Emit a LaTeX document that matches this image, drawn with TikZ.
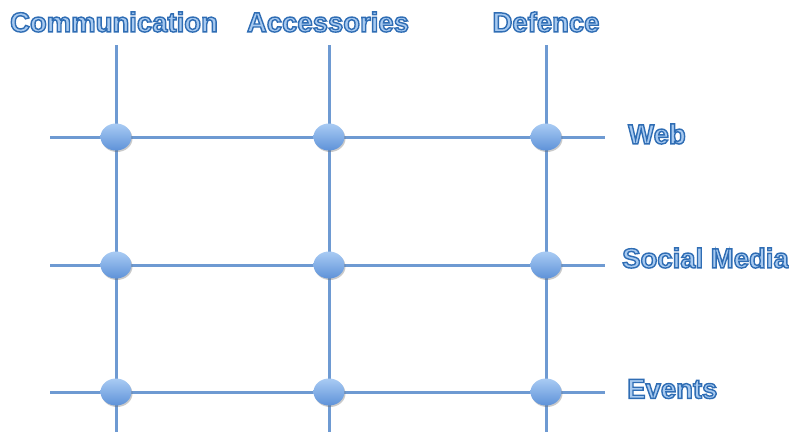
\documentclass[tikz,border=0pt]{standalone}
\usepackage{fontspec}
\setmainfont{Liberation Sans}
\usetikzlibrary{shadows,shapes.geometric}
\definecolor{gridline}{HTML}{6E9AD2}
\definecolor{labelfill}{HTML}{A8CAF0}
\definecolor{dottop}{HTML}{A9CBF3}
\definecolor{dotbot}{HTML}{5E92D8}
\tikzset{
  gridrule/.style={draw=gridline, line width=3pt},
  junction/.style={ellipse, minimum width=31pt, minimum height=27pt, inner sep=0pt,
    top color=dottop, bottom color=dotbot, draw=none,
    drop shadow={shadow xshift=1pt, shadow yshift=-1.5pt, opacity=0.35, fill=black!60}},
  heading/.style={font=\bfseries\fontsize{27.5}{30}\selectfont, inner sep=0pt},
}
% outlined lettering: fill in light blue, stroke in dark blue
\newcommand{\outlined}[1]{\textcolor{labelfill}{%
  \special{pdf:literal direct 2 Tr 1.4 w 0.184 0.427 0.706 RG}#1%
  \special{pdf:literal direct 0 Tr}}}
\begin{document}
\begin{tikzpicture}[x=1pt,y=-1pt]
\useasboundingbox (0,0) rectangle (789,432);
% column headings
\node[heading] (hcom) at (114,22) {\outlined{Communication}};
\node[heading] (hacc) at (328,22) {\outlined{Accessories}};
\node[heading] (hdef) at (546,22) {\outlined{Defence}};
% row headings
\node[heading, anchor=west] (hweb) at (628,134) {\outlined{Web}};
\node[heading, anchor=west] (hsoc) at (622,258) {\outlined{Social Media}};
\node[heading, anchor=west] (hevt) at (627,389) {\outlined{Events}};
% grid line ends
\coordinate (ctop1) at (116,45);  \coordinate (cbot1) at (116,432);
\coordinate (ctop2) at (329,45);  \coordinate (cbot2) at (329,432);
\coordinate (ctop3) at (546,45);  \coordinate (cbot3) at (546,432);
\coordinate (rl1) at (50,137);  \coordinate (rr1) at (605,137);
\coordinate (rl2) at (50,265);  \coordinate (rr2) at (605,265);
\coordinate (rl3) at (50,392);  \coordinate (rr3) at (605,392);
\foreach \i in {1,2,3}{
  \draw[gridrule] (ctop\i) -- (cbot\i);
  \draw[gridrule] (rl\i) -- (rr\i);
}
% junctions
\foreach \r/\y in {1/137,2/265,3/392}{
  \foreach \c/\x in {1/116,2/329,3/546}{
    \node[junction] (j\r\c) at (\x,\y) {};
  }
}
\end{tikzpicture}
\end{document}
